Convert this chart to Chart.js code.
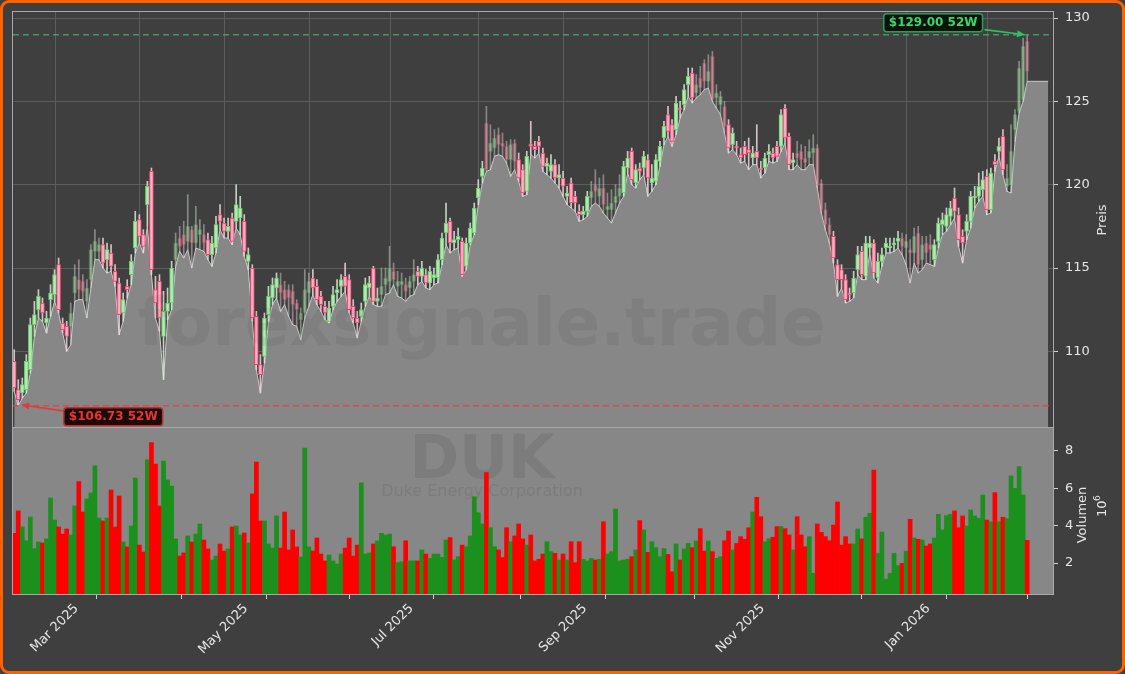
<!DOCTYPE html>
<html>
<head>
<meta charset="utf-8">
<script src="https://cdn.jsdelivr.net/npm/chart.js@4.4.1/dist/chart.umd.min.js"></script>
<style>
    html, body { margin: 0; padding: 0; background: #3f3f3f; }
    #wrap { position: relative; width: 1125px; height: 674px; overflow: hidden; background: #3f3f3f; }
    #cPrice { position: absolute; left: 0; top: 0; }
    #cVol { position: absolute; left: 0; top: 426px; }
    #frame { position: absolute; left: 0; top: 0; width: 1125px; height: 674px; box-sizing: border-box;
             border: 3px solid #ff6000; border-radius: 9px; pointer-events: none; }
</style>
</head>
<body>
<div id="wrap">
    <canvas id="cPrice" width="1125" height="430"></canvas>
    <canvas id="cVol" width="1125" height="248"></canvas>
    <div id="frame"></div>
</div>
<script>
// Tagesdaten DUK (Handelstage, Index 0 = erster Tag)
const OPEN = [
    109.4, 107.7, 107.5, 107.7, 108.9, 111.6, 112.5, 112.9, 111.7, 113.1,
    113.4, 115.2, 111.7, 111.5, 111.5, 113.5, 114.3, 114.2, 113.0, 114.3,
    116.0, 116.0, 116.4, 115.5, 115.9, 114.8, 114.1, 112.3, 113.9, 114.6,
    116.2, 117.9, 117.0, 118.8, 120.8, 113.7, 114.2, 110.9, 112.4, 112.9,
    115.5, 116.8, 117.0, 116.6, 117.3, 116.5, 117.0, 117.0, 116.7, 115.8,
    116.2, 118.2, 117.7, 117.2, 118.0, 117.8, 118.0, 117.8, 115.4, 115.0,
    112.1, 109.2, 109.7, 112.2, 113.2, 113.8, 114.0, 113.7, 113.7, 113.6,
    112.9, 111.9, 112.3, 113.5, 114.4, 113.9, 113.3, 112.7, 111.8, 112.7,
    113.5, 113.9, 114.5, 114.3, 112.7, 112.0, 112.1, 113.0, 113.8, 115.0,
    113.0, 113.4, 114.0, 114.2, 114.8, 113.9, 114.0, 114.0, 113.8, 114.2,
    114.8, 114.5, 114.6, 114.1, 114.4, 114.4, 115.5, 117.1, 117.8, 116.5,
    116.7, 116.6, 115.1, 116.5, 117.1, 119.2, 120.5, 123.7, 122.0, 122.2,
    123.0, 122.5, 122.3, 121.5, 122.5, 121.5, 120.9, 119.6, 122.45, 122.3,
    122.6, 121.9, 121.1, 120.8, 121.2, 120.4, 120.4, 119.3, 120.1, 119.3,
    118.4, 118.2, 118.4, 119.2, 120.0, 119.3, 119.8, 118.5, 118.5, 118.9,
    119.3, 119.5, 121.0, 122.0, 120.1, 121.0, 121.0, 121.5, 120.1, 120.2,
    121.4, 122.8, 124.2, 123.6, 123.3, 124.6, 124.8, 126.0, 126.7, 125.5,
    126.4, 127.3, 126.2, 127.7, 125.2, 124.8, 124.7, 123.6, 122.4, 122.3,
    121.8, 122.3, 122.1, 121.6, 122.0, 121.0, 121.0, 121.8, 121.9, 122.3,
    122.3, 124.6, 122.9, 121.3, 121.9, 122.0, 121.6, 121.6, 121.9, 122.2,
    120.1, 118.5, 117.6, 116.9, 115.2, 114.9, 114.3, 113.5, 113.5, 114.9,
    116.0, 114.5, 116.2, 116.5, 114.4, 115.4, 116.2, 116.2, 116.4, 116.6,
    116.8, 116.2, 116.1, 115.9, 117.1, 115.5, 116.5, 116.4, 115.5, 116.6,
    117.6, 117.5, 118.1, 119.2, 118.2, 116.9, 117.2, 117.8, 119.2, 119.3,
    119.7, 120.5, 118.5, 121.4, 122.0, 122.9, 119.9, 120.0, 123.3, 124.4,
    125.1, 128.6
];
const HIGH = [
    110.1, 108.3, 108.4, 109.8, 112.0, 113.0, 113.7, 113.2, 112.4, 114.0,
    114.9, 115.6, 112.0, 111.8, 112.9, 115.2, 115.5, 114.6, 114.3, 116.4,
    117.3, 116.8, 116.8, 116.5, 116.4, 115.2, 114.4, 113.5, 114.3, 115.8,
    118.4, 118.2, 117.3, 120.2, 121.0, 114.5, 114.6, 113.6, 113.8, 115.4,
    117.1, 117.5, 117.8, 119.4, 117.5, 118.7, 117.9, 117.6, 117.1, 116.9,
    118.1, 118.8, 118.0, 118.0, 118.3, 120.0, 119.3, 118.2, 116.2, 115.2,
    112.4, 109.8, 112.3, 113.9, 114.4, 114.7, 114.7, 114.2, 114.0, 114.0,
    113.1, 112.6, 114.9, 114.7, 114.9, 114.3, 113.6, 113.0, 113.0, 113.9,
    114.3, 114.6, 115.3, 114.6, 113.1, 112.4, 112.9, 114.4, 114.5, 115.1,
    113.8, 115.0, 115.0, 116.3, 115.3, 114.8, 114.7, 114.4, 114.5, 115.5,
    115.1, 115.4, 114.9, 115.1, 115.0, 115.8, 117.1, 118.9, 118.0, 117.2,
    117.4, 116.8, 116.8, 117.7, 118.9, 120.3, 121.4, 124.7, 123.6, 123.3,
    123.4, 123.1, 122.6, 122.7, 122.7, 121.9, 121.2, 122.0, 123.8, 122.6,
    122.9, 122.2, 121.6, 121.8, 121.5, 121.2, 120.8, 119.9, 120.4, 119.6,
    118.8, 118.7, 119.6, 120.2, 120.9, 120.4, 120.6, 119.5, 119.7, 120.0,
    120.6, 121.4, 122.0, 122.2, 121.2, 121.3, 122.0, 121.8, 121.2, 121.8,
    122.6, 123.8, 124.7, 123.9, 125.3, 125.0, 126.0, 127.0, 127.0, 126.6,
    127.1, 127.5, 127.8, 128.0, 126.0, 125.6, 125.0, 123.9, 123.4, 122.6,
    122.2, 122.6, 122.8, 122.3, 123.6, 121.4, 121.9, 122.4, 122.2, 122.6,
    124.5, 124.8, 123.1, 121.9, 122.6, 122.4, 122.3, 122.7, 123.0, 122.4,
    120.3, 118.9, 118.0, 117.2, 115.5, 115.2, 114.6, 113.8, 114.8, 116.3,
    116.3, 116.9, 116.9, 116.7, 115.9, 116.2, 116.8, 116.8, 116.8, 117.2,
    117.1, 117.0, 116.7, 117.4, 117.5, 116.9, 116.9, 117.0, 116.7, 118.0,
    118.3, 118.6, 119.0, 119.8, 118.6, 117.3, 118.2, 119.6, 119.9, 120.7,
    120.8, 120.9, 121.0, 121.8, 122.8, 123.3, 121.2, 123.6, 124.5, 127.4,
    128.8, 129.0
];
const LOW = [
    107.6, 106.73, 107.2, 107.5, 108.7, 110.9, 112.0, 111.8, 111.1, 112.1,
    113.0, 112.3, 111.1, 110.0, 110.4, 113.0, 113.1, 113.1, 112.0, 113.8,
    115.5, 115.5, 115.0, 114.7, 114.8, 113.9, 111.0, 111.8, 113.2, 114.0,
    115.9, 116.5, 115.9, 117.5, 114.6, 112.0, 111.2, 108.3, 111.9, 112.5,
    115.1, 116.0, 115.6, 116.1, 115.0, 116.2, 116.1, 116.0, 115.5, 115.1,
    115.9, 117.3, 116.8, 116.8, 116.4, 117.4, 117.0, 115.7, 114.9, 111.8,
    108.9, 107.5, 109.3, 111.8, 112.8, 113.2, 112.4, 112.8, 112.1, 111.6,
    111.5, 110.7, 112.0, 112.7, 113.4, 112.8, 112.4, 111.9, 111.7, 112.5,
    113.0, 113.3, 113.6, 112.3, 111.7, 110.8, 111.8, 112.7, 113.3, 112.8,
    112.7, 112.7, 113.4, 113.5, 114.0, 113.3, 113.2, 113.0, 113.3, 113.4,
    114.0, 114.2, 113.8, 113.7, 114.0, 114.1, 115.2, 116.4, 115.9, 116.1,
    116.2, 114.5, 114.9, 116.4, 117.0, 118.8, 120.1, 120.8, 120.9, 121.7,
    121.8, 121.7, 121.3, 120.5, 120.9, 120.2, 119.3, 119.4, 121.8, 121.6,
    121.9, 120.8, 120.6, 120.4, 120.1, 119.8, 119.3, 118.8, 118.6, 118.4,
    117.8, 117.9, 118.1, 118.7, 118.9, 118.7, 118.3, 118.0, 117.7, 118.3,
    118.9, 119.3, 120.7, 120.0, 119.8, 120.3, 120.6, 119.3, 119.6, 120.0,
    121.1, 122.4, 122.9, 122.3, 123.0, 124.0, 124.5, 125.3, 124.9, 125.2,
    125.4, 125.7, 125.8, 125.0, 124.6, 124.2, 123.1, 121.9, 122.1, 121.8,
    121.3, 121.4, 120.9, 121.2, 121.2, 120.4, 120.7, 121.4, 121.3, 121.4,
    122.0, 122.5, 120.9, 120.9, 121.2, 120.9, 120.9, 121.2, 121.2, 119.8,
    118.3, 117.3, 116.5, 115.3, 113.3, 113.8, 112.9, 113.0, 113.2, 114.6,
    114.3, 114.3, 115.9, 114.4, 114.1, 115.1, 115.9, 115.9, 116.0, 116.2,
    115.8, 115.2, 114.1, 115.3, 114.7, 114.9, 115.3, 115.2, 115.1, 116.2,
    117.0, 117.2, 117.6, 118.0, 116.3, 115.3, 116.7, 117.4, 118.6, 119.0,
    119.3, 118.2, 118.3, 120.8, 121.7, 120.6, 119.6, 119.5, 122.6, 124.3,
    125.0, 126.2
];
const CLOSE = [
    107.8, 107.1, 108.0, 109.4, 111.6, 112.2, 113.3, 112.3, 112.0, 113.5,
    114.6, 112.5, 111.3, 110.9, 112.3, 114.5, 113.7, 113.6, 113.8, 116.1,
    116.6, 116.4, 115.3, 116.1, 115.1, 114.2, 112.2, 113.1, 113.7, 115.4,
    117.8, 116.9, 116.3, 119.9, 114.9, 112.9, 112.0, 112.4, 112.9, 115.0,
    116.5, 116.3, 116.4, 117.5, 116.5, 117.6, 117.3, 116.5, 115.8, 116.5,
    117.6, 117.8, 117.2, 117.5, 116.6, 118.8, 118.6, 116.0, 115.8, 112.0,
    109.2, 108.6, 112.0, 113.3, 114.0, 114.4, 113.5, 113.1, 113.2, 112.8,
    112.5, 112.3, 113.7, 114.2, 113.8, 113.1, 112.8, 112.3, 112.6, 113.4,
    113.7, 114.3, 113.9, 112.5, 112.0, 111.7, 112.5, 114.0, 114.1, 113.0,
    113.2, 113.9, 114.4, 115.0, 114.3, 114.2, 114.2, 113.6, 114.2, 114.6,
    114.5, 115.0, 114.1, 114.8, 114.6, 115.5, 116.8, 117.7, 116.5, 116.7,
    116.9, 114.6, 116.5, 117.4, 118.6, 119.8, 121.0, 120.9, 122.5, 122.8,
    122.4, 122.3, 121.5, 122.4, 121.4, 120.4, 119.5, 121.7, 122.3, 122.1,
    122.3, 121.1, 121.3, 121.2, 120.4, 120.6, 119.9, 119.5, 118.9, 118.9,
    118.2, 118.4, 119.3, 119.6, 119.6, 119.8, 118.8, 118.7, 118.9, 119.3,
    119.8, 121.1, 121.6, 120.3, 120.9, 120.8, 121.7, 120.4, 120.4, 121.5,
    122.3, 123.5, 123.2, 122.6, 124.9, 124.5, 125.7, 126.5, 125.2, 126.0,
    125.8, 126.2, 126.8, 125.1, 125.5, 125.3, 123.5, 122.2, 123.1, 122.2,
    121.6, 121.8, 121.9, 121.9, 121.6, 120.9, 121.6, 122.0, 121.6, 121.7,
    124.2, 122.8, 121.2, 121.5, 121.6, 121.5, 121.3, 122.0, 122.2, 120.0,
    118.5, 117.6, 117.0, 115.6, 114.3, 114.3, 113.1, 113.4, 114.4, 115.8,
    114.6, 116.5, 116.5, 114.7, 115.4, 115.8, 116.5, 116.3, 116.5, 116.8,
    116.3, 116.6, 115.9, 116.9, 115.2, 116.4, 115.9, 116.1, 116.4, 117.7,
    117.9, 118.2, 118.6, 118.4, 116.7, 116.5, 117.8, 119.3, 119.3, 119.9,
    120.3, 118.5, 120.7, 121.2, 122.3, 120.9, 120.4, 122.0, 124.2, 127.0,
    128.3, 126.8
];
// Volumen in Millionen Stück
const VOLUME = [
    3.59, 4.79, 3.93, 3.19, 4.46, 2.77, 3.12, 3.07, 3.29, 5.48,
    4.30, 3.93, 3.55, 3.82, 3.50, 5.05, 6.36, 4.73, 5.43, 5.75,
    7.20, 4.41, 4.25, 4.41, 5.91, 3.93, 5.59, 3.12, 2.86, 3.98,
    6.55, 2.96, 2.59, 7.52, 8.45, 7.30, 5.05, 7.46, 6.45, 6.12,
    3.29, 2.37, 2.54, 3.45, 3.12, 3.55, 4.09, 3.23, 2.75, 2.16,
    2.37, 3.02, 2.64, 2.75, 3.93, 3.98, 3.50, 3.61, 3.07, 5.70,
    7.41, 4.25, 4.25, 3.02, 2.80, 4.52, 2.80, 4.73, 2.70, 3.77,
    2.86, 2.32, 8.16, 2.86, 2.64, 3.34, 2.48, 2.11, 2.43, 2.11,
    1.95, 2.48, 2.80, 3.34, 2.37, 2.96, 6.29, 2.48, 2.54, 3.02,
    3.18, 3.59, 3.50, 3.55, 2.87, 2.02, 2.07, 3.19, 2.11, 2.11,
    2.11, 2.70, 2.48, 2.25, 2.48, 2.48, 2.30, 3.23, 3.36, 2.16,
    2.34, 2.96, 2.87, 3.45, 5.55, 4.69, 4.09, 6.84, 3.89, 2.87,
    2.70, 2.29, 3.89, 3.14, 3.45, 4.09, 3.29, 2.96, 3.50, 2.11,
    2.20, 2.48, 3.14, 2.61, 2.52, 2.16, 2.48, 2.16, 3.14, 2.02,
    3.14, 2.20, 2.11, 2.25, 2.16, 2.20, 4.21, 2.48, 2.61, 4.89,
    2.11, 2.16, 2.20, 2.34, 2.70, 4.27, 3.77, 2.57, 3.14, 2.82,
    2.34, 2.77, 2.46, 1.53, 3.02, 2.16, 2.75, 3.05, 2.82, 3.18,
    3.84, 2.64, 3.18, 2.61, 2.25, 2.34, 3.19, 3.71, 2.70, 3.05,
    3.41, 3.27, 3.89, 4.73, 5.52, 4.48, 3.14, 3.30, 3.38, 3.95,
    3.95, 3.84, 3.50, 2.70, 4.48, 3.50, 2.87, 3.41, 1.45, 4.09,
    3.64, 3.41, 3.19, 4.03, 5.27, 2.96, 3.41, 3.02, 3.02, 3.82,
    3.29, 4.45, 4.66, 6.98, 2.52, 3.66, 1.13, 1.45, 2.52, 1.86,
    1.98, 2.63, 4.34, 3.34, 3.27, 3.23, 2.91, 3.02, 3.34, 4.61,
    3.77, 4.54, 4.61, 4.79, 3.89, 4.52, 3.98, 4.84, 4.52, 4.39,
    5.64, 4.30, 4.21, 5.77, 4.21, 4.45, 4.38, 6.66, 6.00, 7.16,
    5.64, 3.21
];

// Achsen: Monatsanfänge als Handelstag-Index
const MONTH_TICK_IDX = [10, 31, 52, 73, 93, 115, 136, 157, 180, 199, 221, 241];
const MONTH_TICK_LABELS = ['Mar 2025', '', 'May 2025', '', 'Jul 2025', '', 'Sep 2025', '', 'Nov 2025', '', 'Jan 2026', ''];
const PRICE_TICKS = [110, 115, 120, 125, 130];
const VOL_TICKS = [2, 4, 6, 8];

// Blöcke mit blassen Kerzen
const FADED_RANGES = [[14, 21], [40, 47], [66, 73], [91, 99], [117, 124], [143, 150], [169, 176], [194, 202], [220, 227], [246, 251]];

const X_MIN = -0.3, X_MAX = 257.4;
const FILL_END_IDX = 256.2;
const FONT = "'DejaVu Sans', sans-serif";

Chart.defaults.font.family = FONT;
Chart.defaults.font.size = 13;
Chart.defaults.color = '#e6e6e6';

const N = CLOSE.length;
const isUp = i => CLOSE[i] >= OPEN[i];
const isFaded = i => FADED_RANGES.some(r => i >= r[0] && i <= r[1]);

// Kerzen-Daten aufbauen
const wickData = [], bodyData = [], wickColors = [], bodyFill = [], bodyBorder = [];
for (let i = 0; i < N; i++) {
    const f = isFaded(i);
    wickData.push({ x: i, y: [LOW[i], HIGH[i]] });
    bodyData.push({ x: i, y: [OPEN[i], CLOSE[i]] });
    if (isUp(i)) {
        wickColors.push(f ? 'rgba(215,235,215,0.45)' : 'rgba(215,235,215,0.85)');
        bodyFill.push(f ? 'rgba(190,230,190,0.3)' : 'rgba(190,228,190,0.9)');
        bodyBorder.push(f ? 'rgba(120,215,120,0.3)' : '#62cf62');
    } else {
        wickColors.push(f ? 'rgba(240,215,222,0.45)' : 'rgba(240,215,222,0.85)');
        bodyFill.push(f ? 'rgba(245,180,195,0.3)' : 'rgba(246,178,196,0.9)');
        bodyBorder.push(f ? 'rgba(255,90,130,0.3)' : '#f4416f');
    }
}
const lowLine = LOW.map((v, i) => ({ x: i, y: v }));
lowLine.push({ x: FILL_END_IDX, y: LOW[N - 1] });

const volData = VOLUME.map((v, i) => ({ x: i, y: v }));
const volColors = VOLUME.map((v, i) => isUp(i) ? '#1c901c' : '#ff0000');

const hiVal = Math.max(...HIGH), hiIdx = HIGH.indexOf(hiVal);
const loVal = Math.min(...LOW), loIdx = LOW.indexOf(loVal);

function monthTicks(scale) {
    scale.ticks = MONTH_TICK_IDX.map(v => ({ value: v }));
}

// Skalen ohne automatische Randabstände
function fixWidth(s) { s.width = 72; s.paddingTop = 0; s.paddingBottom = 0; }

function drawArrow(ctx, x1, y1, x2, y2, color) {
    const a = Math.atan2(y2 - y1, x2 - x1), hl = 8, hw = 3.5;
    const bx = x2 - hl * Math.cos(a), by = y2 - hl * Math.sin(a);
    ctx.strokeStyle = color; ctx.fillStyle = color; ctx.lineWidth = 1.6; ctx.setLineDash([]);
    ctx.beginPath(); ctx.moveTo(x1, y1); ctx.lineTo(bx, by); ctx.stroke();
    ctx.beginPath();
    ctx.moveTo(x2, y2);
    ctx.lineTo(bx - hw * Math.sin(a), by + hw * Math.cos(a));
    ctx.lineTo(bx + hw * Math.sin(a), by - hw * Math.cos(a));
    ctx.closePath(); ctx.fill();
}

function drawLabelBox(ctx, cx, cy, text, fg, bg, border) {
    ctx.font = 'bold 12px ' + FONT;
    const w = ctx.measureText(text).width + 10, h = 18, x = cx - w / 2, y = cy - h / 2, r = 3;
    ctx.beginPath();
    ctx.moveTo(x + r, y); ctx.lineTo(x + w - r, y); ctx.quadraticCurveTo(x + w, y, x + w, y + r);
    ctx.lineTo(x + w, y + h - r); ctx.quadraticCurveTo(x + w, y + h, x + w - r, y + h);
    ctx.lineTo(x + r, y + h); ctx.quadraticCurveTo(x, y + h, x, y + h - r);
    ctx.lineTo(x, y + r); ctx.quadraticCurveTo(x, y, x + r, y);
    ctx.fillStyle = bg; ctx.fill();
    ctx.strokeStyle = border; ctx.lineWidth = 1.5; ctx.setLineDash([]); ctx.stroke();
    ctx.fillStyle = fg; ctx.textAlign = 'center'; ctx.textBaseline = 'middle';
    ctx.fillText(text, cx, cy + 0.5);
    return { x: x, y: y, w: w, h: h };
}

function drawSpines(chart) {
    const a = chart.chartArea, ctx = chart.ctx;
    ctx.save();
    ctx.strokeStyle = '#a9a9a9'; ctx.lineWidth = 1;
    ctx.strokeRect(Math.round(a.left) - 0.5, Math.round(a.top) - 0.5, Math.round(a.right - a.left) + 1, Math.round(a.bottom - a.top) + 1);
    ctx.restore();
}

const pricePlugin = {
    id: 'pricePlugin',
    beforeDatasetsDraw(chart) {
        // vertikale Monatslinien
        const ctx = chart.ctx, a = chart.chartArea, xs = chart.scales.x;
        ctx.save();
        ctx.strokeStyle = '#5d5d5d'; ctx.lineWidth = 1;
        MONTH_TICK_IDX.forEach(v => {
            const px = Math.round(xs.getPixelForValue(v)) + 0.5;
            ctx.beginPath(); ctx.moveTo(px, a.top); ctx.lineTo(px, a.bottom); ctx.stroke();
        });
        ctx.restore();
    },
    afterDatasetsDraw(chart) {
        const ctx = chart.ctx, a = chart.chartArea, xs = chart.scales.x, ys = chart.scales.y;
        ctx.save();
        // Wasserzeichen
        ctx.font = 'bold 66px ' + FONT;
        ctx.fillStyle = 'rgba(30,30,30,0.07)';
        ctx.textAlign = 'center'; ctx.textBaseline = 'middle';
        ctx.fillText('forexsignale.trade', 482, 328);

        // 52W Linien
        ctx.lineWidth = 1.5;
        ctx.setLineDash([6, 4]);
        ctx.strokeStyle = 'rgba(60,175,100,0.85)';
        const yHi = ys.getPixelForValue(hiVal);
        ctx.beginPath(); ctx.moveTo(a.left, yHi); ctx.lineTo(a.right, yHi); ctx.stroke();
        ctx.strokeStyle = 'rgba(225,65,65,0.85)';
        const yLo = ys.getPixelForValue(loVal);
        ctx.beginPath(); ctx.moveTo(a.left, yLo); ctx.lineTo(a.right, yLo); ctx.stroke();
        ctx.setLineDash([]);

        // 52W Hoch
        const xHi = xs.getPixelForValue(hiIdx);
        const bHi = drawLabelBox(ctx, xHi - 94, yHi - 12, '$' + hiVal.toFixed(2) + ' 52W', '#3fd46a', '#08140b', '#2f9c55');
        drawArrow(ctx, bHi.x + bHi.w + 2, yHi - 5, xHi - 2, yHi, '#33c060');

        // 52W Tief
        const xLo = xs.getPixelForValue(loIdx);
        const bLo = drawLabelBox(ctx, xLo + 95, yLo + 11, '$' + loVal.toFixed(2) + ' 52W', '#e83434', '#1c0a0a', '#b83030');
        drawArrow(ctx, bLo.x - 1, yLo + 5, xLo + 3, yLo - 1, '#e03a3a');
        ctx.restore();
    },
    afterDraw(chart) {
        drawSpines(chart);
        const ctx = chart.ctx, a = chart.chartArea;
        ctx.save();
        ctx.font = '13px ' + FONT; ctx.fillStyle = '#e6e6e6';
        ctx.translate(1103, (a.top + a.bottom) / 2);
        ctx.rotate(-Math.PI / 2);
        ctx.textAlign = 'center'; ctx.textBaseline = 'middle';
        ctx.fillText('Preis', 0, 0);
        ctx.restore();
    }
};

const volPlugin = {
    id: 'volPlugin',
    beforeDatasetsDraw(chart) {
        const ctx = chart.ctx, a = chart.chartArea;
        ctx.save();
        ctx.fillStyle = '#878787';
        ctx.fillRect(a.left, a.top, a.right - a.left, a.bottom - a.top);
        ctx.fillStyle = 'rgba(30,30,30,0.10)';
        ctx.textAlign = 'center'; ctx.textBaseline = 'middle';
        ctx.font = 'bold 60px ' + FONT;
        ctx.fillText('DUK', 482, a.top + 34);
        ctx.font = '16px ' + FONT;
        ctx.fillText('Duke Energy Corporation', 482, a.top + 64);
        ctx.restore();
    },
    afterDraw(chart) {
        drawSpines(chart);
        const ctx = chart.ctx, a = chart.chartArea;
        ctx.save();
        ctx.fillStyle = '#e6e6e6';
        ctx.textAlign = 'center'; ctx.textBaseline = 'middle';
        ctx.translate(1083, (a.top + a.bottom) / 2 + 4);
        ctx.rotate(-Math.PI / 2);
        ctx.font = '13px ' + FONT;
        ctx.fillText('Volumen', 0, 0);
        ctx.restore();
        ctx.save();
        ctx.fillStyle = '#e6e6e6';
        ctx.translate(1103, (a.top + a.bottom) / 2 - 4);
        ctx.rotate(-Math.PI / 2);
        ctx.textBaseline = 'middle'; ctx.textAlign = 'left';
        ctx.font = '13px ' + FONT;
        ctx.fillText('10', -10, 0);
        ctx.font = '9px ' + FONT;
        ctx.fillText('6', 6, -5);
        ctx.restore();
    }
};

// Preis-Chart
new Chart(document.getElementById('cPrice'), {
    type: 'bar',
    data: {
        datasets: [
            {
                type: 'line',
                data: lowLine,
                borderColor: '#cbcbcb',
                borderWidth: 1,
                backgroundColor: '#878787',
                fill: 'start',
                pointRadius: 0,
                tension: 0,
                order: 3
            },
            {
                type: 'bar',
                data: wickData,
                backgroundColor: wickColors,
                barThickness: 1,
                grouped: false,
                order: 2
            },
            {
                type: 'bar',
                data: bodyData,
                backgroundColor: bodyFill,
                borderColor: bodyBorder,
                borderWidth: 1,
                borderSkipped: false,
                barThickness: 4,
                grouped: false,
                order: 1
            }
        ]
    },
    options: {
        responsive: false,
        animation: false,
        events: [],
        layout: { autoPadding: false, padding: { left: 13, top: 12, right: 0, bottom: 2 } },
        plugins: { legend: { display: false }, tooltip: { enabled: false } },
        scales: {
            x: {
                type: 'linear',
                display: false,
                min: X_MIN,
                max: X_MAX,
                offset: false
            },
            y: {
                position: 'right',
                min: 105.4,
                max: 130.36,
                afterBuildTicks: function(s) { s.ticks = PRICE_TICKS.map(v => ({ value: v })); },
                ticks: { padding: 7, color: '#e6e6e6' },
                grid: { color: '#5d5d5d', tickColor: '#d0d0d0', tickLength: 5 },
                border: { display: false },
                afterFit: fixWidth
            }
        }
    },
    plugins: [pricePlugin]
});

// Volumen-Chart
new Chart(document.getElementById('cVol'), {
    type: 'bar',
    data: {
        datasets: [{
            data: volData,
            backgroundColor: volColors,
            barPercentage: 1,
            categoryPercentage: 1,
            grouped: false
        }]
    },
    options: {
        responsive: false,
        animation: false,
        events: [],
        layout: { autoPadding: false, padding: { left: 13, top: 2, right: 0, bottom: 0 } },
        plugins: { legend: { display: false }, tooltip: { enabled: false } },
        scales: {
            x: {
                type: 'linear',
                min: X_MIN,
                max: X_MAX,
                offset: false,
                afterBuildTicks: monthTicks,
                ticks: {
                    autoSkip: false,
                    minRotation: 45,
                    maxRotation: 45,
                    labelOffset: 22,
                    padding: 2,
                    color: '#e6e6e6',
                    callback: function(value) {
                        const k = MONTH_TICK_IDX.indexOf(value);
                        return k >= 0 ? MONTH_TICK_LABELS[k] : '';
                    }
                },
                grid: { drawOnChartArea: false, tickColor: '#d0d0d0', tickLength: 5 },
                border: { display: false },
                afterFit: function(s) { s.height = 80; s.paddingLeft = 0; s.paddingRight = 0; }
            },
            y: {
                position: 'right',
                min: 0.34,
                max: 9.23,
                afterBuildTicks: function(s) { s.ticks = VOL_TICKS.map(v => ({ value: v })); },
                ticks: { padding: 7, color: '#e6e6e6' },
                grid: { drawOnChartArea: false, tickColor: '#d0d0d0', tickLength: 5 },
                border: { display: false },
                afterFit: fixWidth
            }
        }
    },
    plugins: [volPlugin]
});
</script>
</body>
</html>
